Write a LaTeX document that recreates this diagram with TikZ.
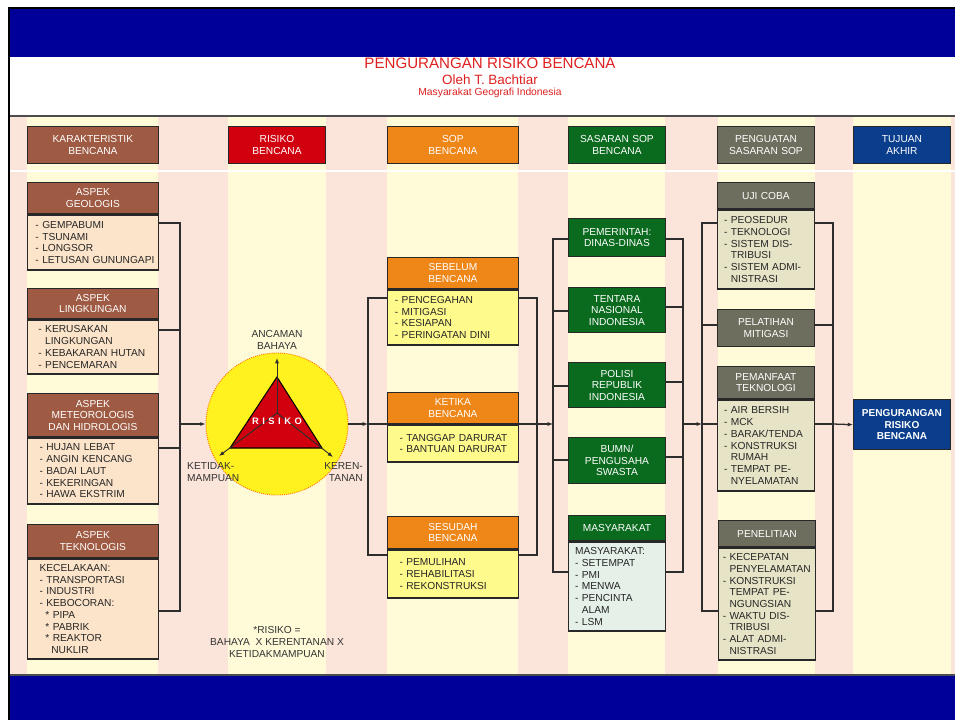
\documentclass[tikz,border=0pt]{standalone}
\usepackage{fontspec}
\setmainfont{Liberation Sans}
\usetikzlibrary{arrows.meta,positioning}
\definecolor{navyband}{RGB}{0,0,153}
\definecolor{peachbg}{RGB}{251,229,218}
\definecolor{creambg}{RGB}{255,251,217}
\definecolor{titlered}{RGB}{222,32,32}
\definecolor{boxline}{RGB}{40,40,40}
\definecolor{linkgray}{RGB}{45,45,45}
\definecolor{karcolor}{RGB}{158,90,66}
\definecolor{karbody}{RGB}{252,228,202}
\definecolor{riskred}{RGB}{208,0,14}
\definecolor{riskyellow}{RGB}{255,242,30}
\definecolor{sopcolor}{RGB}{238,134,24}
\definecolor{sopbody}{RGB}{255,250,140}
\definecolor{sascolor}{RGB}{10,106,30}
\definecolor{sasbody}{RGB}{228,240,232}
\definecolor{pencolor}{RGB}{110,110,94}
\definecolor{penbody}{RGB}{230,227,198}
\definecolor{goalcolor}{RGB}{10,62,140}
\newcommand{\indt}{\hphantom{- }}

\begin{document}
\begin{tikzpicture}[x=0.03cm, y=-0.03cm,
      hdr/.style={rectangle, draw=boxline, line width=1.1pt, text=white, align=center, anchor=north west,
                  inner ysep=1pt, font=\fontsize{8.7}{9.9}\selectfont},
      lst/.style={rectangle, draw=boxline, line width=1.1pt, text=black!85, align=left, anchor=north west,
                  inner ysep=2pt, font=\fontsize{8.7}{10}\selectfont},
      wide/.style={text width=108pt, inner xsep=1.7pt},
      slim/.style={text width=75.5pt, inner xsep=3.5pt},
      link/.style={draw=linkgray, line width=1.1pt},
      arr/.style={link, -{Latex[length=4.5pt,width=3.5pt]}},
      lbl/.style={font=\fontsize{8.7}{9.9}\selectfont, text=black!80, inner sep=0pt}
    ]
    \useasboundingbox (0,0) rectangle (955,720);
    \fill[white] (0,0) rectangle (955,720);
    \fill[peachbg] (10,117) rectangle (955,675);
    \foreach \a/\b in {27/158, 228/326, 387/518, 568/665, 718/815, 853/951}
      \fill[creambg] (\a,117) rectangle (\b,675);
    \draw[white, line width=2pt] (10,171) -- (955,171);
    \node[text=titlered, font=\fontsize{12.9}{14}\selectfont] (title) at (490,63) {PENGURANGAN RISIKO BENCANA};
    \node[text=titlered, font=\fontsize{11.5}{13}\selectfont] (author) at (490,80) {Oleh T. Bachtiar};
    \node[text=titlered, font=\fontsize{8.8}{10}\selectfont] (org) at (490,93) {Masyarakat Geografi Indonesia};
    \fill[navyband] (10,9) rectangle (955,57);
    \fill[navyband] (10,676) rectangle (955,720);
    \draw[black!70, line width=1.5pt] (10,116) -- (955,116);
    \draw[black!70, line width=1.5pt] (10,675) -- (955,675);
    \draw[black, line width=2.5pt] (9,720) -- (9,8) -- (955,8);

    \node[hdr, wide, fill=karcolor,  minimum height=1.11cm] (khdr)  at (27,126)  {KARAKTERISTIK\\BENCANA};
    \node[hdr, slim, fill=riskred,   minimum height=1.11cm] (rhdr)  at (228,126) {RISIKO\\BENCANA};
    \node[hdr, wide, fill=sopcolor,  minimum height=1.11cm] (shdr)  at (387,126) {SOP\\BENCANA};
    \node[hdr, slim, fill=sascolor,  minimum height=1.11cm] (sshdr) at (568,126) {SASARAN SOP\\BENCANA};
    \node[hdr, slim, fill=pencolor,  minimum height=1.11cm] (phdr)  at (717,126) {PENGUATAN\\SASARAN SOP};
    \node[hdr, slim, fill=goalcolor, minimum height=1.11cm] (thdr)  at (853,126) {TUJUAN\\AKHIR};

    \node[hdr, wide, fill=karcolor, minimum height=0.93cm] (geoH) at (27,182) {ASPEK\\GEOLOGIS};
    \node[lst, wide, fill=karbody, minimum height=1.65cm] (geoB) at (geoH.south west) {\hspace*{5pt}- GEMPABUMI\\\hspace*{5pt}- TSUNAMI\\\hspace*{5pt}- LONGSOR\\\hspace*{5pt}- \mbox{LETUSAN GUNUNGAPI}};
    \node[hdr, wide, fill=karcolor, minimum height=0.90cm] (lingH) at (27,288) {ASPEK\\LINGKUNGAN};
    \node[lst, wide, fill=karbody, minimum height=1.62cm] (lingB) at (lingH.south west) {\hspace*{7.5pt}- KERUSAKAN\\\hspace*{7.5pt}\indt LINGKUNGAN\\\hspace*{7.5pt}- KEBAKARAN HUTAN\\\hspace*{7.5pt}- PENCEMARAN};
    \node[hdr, wide, fill=karcolor, minimum height=1.29cm] (metH) at (27,393) {ASPEK\\METEOROLOGIS\\DAN HIDROLOGIS};
    \node[lst, wide, fill=karbody, minimum height=1.98cm] (metB) at (metH.south west) {\hspace*{8.5pt}- HUJAN LEBAT\\\hspace*{8.5pt}- ANGIN KENCANG\\\hspace*{8.5pt}- BADAI LAUT\\\hspace*{8.5pt}- KEKERINGAN\\\hspace*{8.5pt}- HAWA EKSTRIM};
    \node[hdr, wide, fill=karcolor, minimum height=0.99cm] (tekH) at (27,524) {ASPEK\\TEKNOLOGIS};
    \node[lst, wide, fill=karbody, minimum height=3.00cm] (tekB) at (tekH.south west) {\hspace*{8.5pt}KECELAKAAN:\\\hspace*{8.5pt}- TRANSPORTASI\\\hspace*{8.5pt}- INDUSTRI\\\hspace*{8.5pt}- KEBOCORAN:\\\hspace*{13.5pt}* PIPA\\\hspace*{13.5pt}* PABRIK\\\hspace*{13.5pt}* REAKTOR\\\hspace*{18.5pt}NUKLIR};

    \node[circle, fill=riskyellow, draw=orange!90!red, densely dotted, line width=0.8pt, minimum size=4.26cm] (risk) at (277,424) {};
    \begin{scope}[shift={(risk.center)}]
      \filldraw[fill=riskred, draw=black, line width=0.9pt] (0,-47) -- (-47,24) -- (45,24) -- cycle;
      \coordinate (tcen) at (0,-11);
      \draw[arr, line width=0.8pt] (tcen) -- (0,-66);
      \draw[arr, line width=0.8pt] (tcen) -- (-58,32);
      \draw[arr, line width=0.8pt] (tcen) -- (56,33);
      \node[text=white, font=\bfseries\fontsize{8}{9}\selectfont] (risktext) at (0,-3) {R\hspace{3pt}I\hspace{3pt}S\hspace{3pt}I\hspace{3pt}K\hspace{3pt}O};
    \end{scope}
    \node[lbl, align=center] (ancaman) at (277,340) {ANCAMAN\\BAHAYA};
    \node[lbl, align=left, anchor=west] (ketidak) at (187,472) {KETIDAK-\\MAMPUAN};
    \node[lbl, align=right, anchor=east] (keren) at (363,472) {KEREN-\\TANAN};
    \node[lbl, align=center] (fnote) at (277,642) {*RISIKO =\\BAHAYA\ \ X KERENTANAN X\\KETIDAKMAMPUAN};

    \node[hdr, wide, fill=sopcolor, minimum height=0.93cm] (sebH) at (387,257) {SEBELUM\\BENCANA};
    \node[lst, wide, fill=sopbody, minimum height=1.65cm] (sebB) at (sebH.south west) {\hspace*{4.5pt}- PENCEGAHAN\\\hspace*{4.5pt}- MITIGASI\\\hspace*{4.5pt}- KESIAPAN\\\hspace*{4.5pt}- PERINGATAN DINI};
    \node[hdr, wide, fill=sopcolor, minimum height=0.93cm] (ketH) at (387,392) {KETIKA\\BENCANA};
    \node[lst, wide, fill=sopbody, minimum height=1.11cm] (ketB) at (ketH.south west) {\hspace*{8.5pt}- TANGGAP DARURAT\\\hspace*{8.5pt}- BANTUAN DARURAT};
    \node[hdr, wide, fill=sopcolor, minimum height=0.96cm] (sesH) at (387,516) {SESUDAH\\BENCANA};
    \node[lst, wide, fill=sopbody, minimum height=1.44cm] (sesB) at (sesH.south west) {\hspace*{8.5pt}- PEMULIHAN\\\hspace*{8.5pt}- REHABILITASI\\\hspace*{8.5pt}- REKONSTRUKSI};

    \node[hdr, slim, fill=sascolor, minimum height=1.14cm] (pemN) at (568,218) {PEMERINTAH:\\DINAS-DINAS};
    \node[hdr, slim, fill=sascolor, minimum height=1.35cm] (tniN) at (568,287) {TENTARA\\NASIONAL\\INDONESIA};
    \node[hdr, slim, fill=sascolor, minimum height=1.35cm] (polN) at (568,362) {POLISI\\REPUBLIK\\INDONESIA};
    \node[hdr, slim, fill=sascolor, minimum height=1.38cm] (bumN) at (568,437) {BUMN/\\PENGUSAHA\\SWASTA};
    \node[hdr, slim, fill=sascolor, minimum height=0.75cm] (masH) at (568,515) {MASYARAKAT};
    \node[lst, slim, fill=sasbody, minimum height=2.67cm] (masB) at (masH.south west) {\hspace*{2pt}MASYARAKAT:\\\hspace*{2pt}- SETEMPAT\\\hspace*{2pt}- PMI\\\hspace*{2pt}- MENWA\\\hspace*{2pt}- PENCINTA\\\hspace*{2pt}\indt ALAM\\\hspace*{2pt}- LSM};

    \node[hdr, slim, fill=pencolor, minimum height=0.78cm] (ujiH) at (717,182) {UJI COBA};
    \node[lst, slim, fill=penbody, minimum height=2.37cm] (ujiB) at (ujiH.south west) {\hspace*{2pt}- PEOSEDUR\\\hspace*{2pt}- TEKNOLOGI\\\hspace*{2pt}- SISTEM DIS-\\\hspace*{2pt}\indt TRIBUSI\\\hspace*{2pt}- SISTEM ADMI-\\\hspace*{2pt}\indt NISTRASI};
    \node[hdr, slim, fill=pencolor, minimum height=1.11cm] (latN) at (717,309) {PELATIHAN\\MITIGASI};
    \node[hdr, slim, fill=pencolor, minimum height=0.96cm] (manH) at (717,366) {PEMANFAAT\\TEKNOLOGI};
    \node[lst, slim, fill=penbody, minimum height=2.73cm] (manB) at (manH.south west) {\hspace*{2pt}- AIR BERSIH\\\hspace*{2pt}- MCK\\\hspace*{2pt}- BARAK/TENDA\\\hspace*{2pt}- KONSTRUKSI\\\hspace*{2pt}\indt RUMAH\\\hspace*{2pt}- TEMPAT PE-\\\hspace*{2pt}\indt NYELAMATAN};
    \node[hdr, slim, fill=pencolor, minimum height=0.78cm] (penH) at (718,520) {PENELITIAN};
    \node[lst, slim, fill=penbody, minimum height=3.36cm] (penB) at (penH.south west) {- KECEPATAN\\\indt PENYELAMATAN\\- KONSTRUKSI\\\indt TEMPAT PE-\\\indt NGUNGSIAN\\- WAKTU DIS-\\\indt TRIBUSI\\- ALAT ADMI-\\\indt NISTRASI};

    \node[hdr, slim, fill=goalcolor, minimum height=1.5cm, font=\bfseries\fontsize{8.6}{9.8}\selectfont] (goal) at (853,399) {PENGURANGAN\\RISIKO\\BENCANA};

    \coordinate (busA) at (180,424);
    \coordinate (busB) at (368,424);
    \coordinate (busC) at (537,424);
    \coordinate (busD) at (553,424);
    \coordinate (busE) at (683,424);
    \coordinate (busF) at (702,424);
    \coordinate (busG) at (833,424);

    \draw[link] (geoB.east |- 0,223) -| (busA);
    \draw[link] (lingB.east |- 0,330) -| (busA);
    \draw[link] (metB.east |- 0,448) -| (busA);
    \draw[link] (tekB.east |- 0,611) -| (busA);
    \draw[arr] (busA) -- (risk.west);

    \draw[arr] (risk.east) -- (busB);
    \draw[link] (busB) |- (sebB.west |- 0,298);
    \draw[link] (busB) -- (ketB.west |- 0,424);
    \draw[link] (busB) |- (sesB.west |- 0,555);

    \draw[link] (sebB.east |- 0,298) -| (busC);
    \draw[link] (ketB.east |- 0,424) -- (busC);
    \draw[link] (sesB.east |- 0,555) -| (busC);
    \draw[arr] (busC) -- (busD);

    \draw[link] (busD) |- (pemN.west |- 0,239);
    \draw[link] (busD) |- (tniN.west |- 0,311);
    \draw[link] (busD) |- (polN.west |- 0,386);
    \draw[link] (busD) |- (bumN.west |- 0,460);
    \draw[link] (busD) |- (masB.west |- 0,572);

    \draw[link] (pemN.east |- 0,239) -| (busE);
    \draw[link] (tniN.east |- 0,307) -| (busE);
    \draw[link] (polN.east |- 0,382) -| (busE);
    \draw[link] (bumN.east |- 0,457) -| (busE);
    \draw[link] (masB.east |- 0,572) -| (busE);
    \draw[arr] (busE) -- (busF);

    \draw[link] (busF) |- (ujiB.west |- 0,223);
    \draw[link] (busF) |- (latN.west |- 0,325);
    \draw[link] (busF) -- (manB.west |- 0,424);
    \draw[link] (busF) |- (penB.west |- 0,611);

    \draw[link] (ujiB.east |- 0,223) -| (busG);
    \draw[link] (latN.east |- 0,325) -| (busG);
    \draw[link] (manB.east |- 0,424) -- (busG);
    \draw[link] (penB.east |- 0,611) -| (busG);
    \draw[arr] (busG) -- (goal.west);
  \end{tikzpicture}
\end{document}
